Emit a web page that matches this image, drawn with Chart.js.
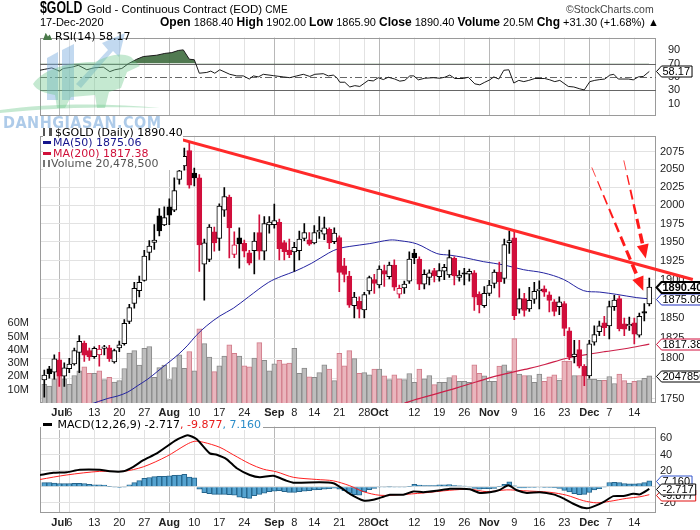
<!DOCTYPE html>
<html>
<head>
<meta charset="utf-8">
<title>$GOLD daily</title>
<script src="https://cdn.jsdelivr.net/npm/chart.js@4.4.1/dist/chart.umd.min.js"></script>
<style>
  html, body { margin: 0; padding: 0; background: #fff; }
  #wrap { position: relative; width: 700px; height: 530px; overflow: hidden; background: #fff; }
  #wrap canvas { position: absolute; left: 0; }
  .t { position: absolute; white-space: nowrap; color: #000; z-index: 5; }
  .hdr { font-family: 'Liberation Sans', Arial, sans-serif; }
  .lg { font-family: 'DejaVu Sans', Verdana, sans-serif; font-size: 11px; line-height: 10.4px; background: #fff; }
  .dash { display: inline-block; width: 8px; height: 3px; vertical-align: 2px; margin-right: 2px; }
  .wm { position: absolute; left: 0; top: 0; z-index: 4; pointer-events: none; }
</style>
</head>
<body>
<div id="wrap">
  <canvas id="rsi" width="700" height="99" style="top:27px"></canvas>
  <canvas id="price" width="700" height="295" style="top:125px"></canvas>
  <canvas id="macd" width="700" height="114" style="top:416px"></canvas>

  <svg class="wm" width="170" height="135">
    <g fill="rgba(120,170,222,0.45)">
      <polygon points="47,100 47,58 58,52 58,100"/>
      <polygon points="62,100 62,50 74,44 74,100"/>
      <polygon points="76,84 108,50 102,43 125,33 119,57 113,51 81,88"/>
    </g>
    <g fill="rgba(110,200,140,0.4)">
      <path d="M33,84 C44,68 70,62 95,62 C106,57 118,51 131,57 L140,66 L127,72 L121,88 L109,92 L105,108 L97,108 L95,95 L71,97 L65,108 L57,108 L55,95 C45,93 37,91 33,84 Z"/>
      <path d="M0,110 C50,103 110,103 160,108 C110,106 50,108 0,113 Z"/>
    </g>
  </svg>
  <div class="t" style="left:3px;top:113px;font:bold 16px 'DejaVu Sans Condensed','Liberation Sans Narrow',sans-serif;color:rgba(120,168,218,0.6);letter-spacing:0.5px;">DANHGIASAN.COM</div>

  <div class="t hdr" style="left:40px;top:0px;font-weight:bold;font-size:16px;line-height:16px;transform:scaleX(0.77);transform-origin:0 0;">$GOLD</div>
  <div class="t hdr" style="left:87px;top:3px;font-size:11.5px;line-height:12px;">Gold - Continuous Contract (EOD) <span style="font-size:10px">CME</span></div>
  <div class="t hdr" style="left:566px;top:3px;font-size:10.5px;line-height:12px;color:#444;">©StockCharts.com</div>
  <div class="t hdr" style="left:40px;top:16px;font-size:11px;line-height:12px;">17-Dec-2020</div>
  <div class="t hdr" style="left:160px;top:16px;font-size:11px;line-height:12px;"><b style="font-size:12px">Open</b> 1868.40 <b style="font-size:12px">High</b> 1902.00 <b style="font-size:12px">Low</b> 1865.90 <b style="font-size:12px">Close</b> 1890.40 <b style="font-size:12px">Volume</b> 20.5M <b style="font-size:12px">Chg</b> +31.30 (+1.68%) ▲</div>

  <div class="t lg" style="left:43px;top:31px;line-height:11px;background:transparent;"><span style="display:inline-block;width:9px;height:8px;background:#4a7a4a;clip-path:polygon(0 100%,30% 10%,55% 55%,75% 30%,100% 100%);margin-right:3px;"></span>RSI(14) 58.17</div>

  <div class="t lg" style="left:43px;top:128px;">
    <div><span style="display:inline-block;width:9px;height:8px;border-left:2px solid #555;border-right:3px solid #555;box-sizing:border-box;margin-right:3px;vertical-align:0px"></span>$GOLD (Daily) 1890.40</div>
    <div style="color:#14148c"><span class="dash" style="background:#14148c"></span>MA(50) 1875.06</div>
    <div style="color:#d0103a"><span class="dash" style="background:#d0103a"></span>MA(200) 1817.38</div>
    <div style="color:#555"><span style="display:inline-block;width:7px;height:7px;border-left:2px solid #777;border-right:2px solid #777;box-sizing:border-box;margin-right:1px;vertical-align:0px"></span>Volume 20,478,500</div>
  </div>

  <div class="t lg" style="left:41px;top:419px;line-height:11px;padding:0 2px;"><span class="dash" style="background:#000;width:9px"></span> MACD(12,26,9) -2.717<span style="color:#e81c1c">, -9.877</span><span style="color:#2a8cc8">, 7.160</span></div>
</div>

<script>
// ---- data (trading days Jun 26 2020 .. Dec 17 2020, index 0..121) ----
const xTickIdx    = [3, 5, 10, 15, 20, 25, 30, 35, 40, 46, 50, 54, 59, 64, 67, 74, 79, 84, 89, 94, 99, 104, 109, 113, 118];
const xTickLabels = ['Jul', '6', '13', '20', '27', 'Aug', '10', '17', '24', 'Sep', '8', '14', '21', '28', 'Oct', '12', '19', '26', 'Nov', '9', '16', '23', 'Dec', '7', '14'];
const monthIdx    = [3, 25, 46, 67, 89, 109];

const priceTicks = [1750, 1775, 1800, 1825, 1850, 1875, 1900, 1925, 1950, 1975, 2000, 2025, 2050, 2075];
const volTicks   = [10, 20, 30, 40, 50, 60];
const rsiTicks   = [10, 30, 50, 70, 90];
const macdTicks  = [-20, 0, 20, 40, 60];

const open = [
  1773, 1786.5, 1782.6, 1797.7, 1777.5, 1786.8, 1792.6, 1806.8, 1818.7, 1809.3,
  1801.7, 1803.7, 1812, 1812.8, 1795, 1812.7, 1818, 1846, 1869, 1885.5,
  1899, 1935.8, 1949.5, 1985.4, 1973, 1997.8, 1993.3, 2035.8, 2054.9, 2077,
  2044.9, 2038.1, 1920.4, 1926.8, 1963.5, 1954.7, 1993.3, 2011.2, 1933.2, 1955.6,
  1948.2, 1935.3, 1938.4, 1962.6, 1937.5, 1973, 1973.5, 1976.6, 1949, 1939,
  1936.6, 1938.4, 1954.7, 1953, 1948.7, 1963.5, 1960.5, 1967, 1950.4, 1956,
  1918.2, 1904.5, 1866.3, 1871.8, 1860.8, 1885.3, 1900, 1893, 1912, 1904,
  1919, 1881, 1889, 1898, 1935, 1927, 1894, 1903, 1912, 1904,
  1911, 1906, 1928, 1903, 1909, 1907, 1909, 1881, 1866, 1882,
  1895, 1910, 1901.7, 1949, 1955.6, 1861.6, 1875.2, 1862, 1874.5, 1885.7,
  1887.8, 1880.3, 1871.2, 1865, 1869, 1834.1, 1801.7, 1810.5, 1789.8, 1777.9,
  1819.8, 1832.9, 1844.3, 1840.3, 1865, 1875.2, 1843, 1840.3, 1844.3, 1828.7,
  1858.7, 1868.4
];
const high = [
  1785, 1789.7, 1803.8, 1807, 1794, 1799.6, 1812.5, 1828, 1821, 1812.5,
  1814, 1815.8, 1815.8, 1815.8, 1811, 1821, 1848.3, 1868, 1896.3, 1904.5,
  1938.8, 1951.7, 1973.4, 1995.5, 1997.8, 2009, 2038, 2058.6, 2080.3, 2088.6,
  2051.8, 2042.6, 1953.9, 1973.4, 1970, 2001.8, 2024.6, 2013.9, 1963.5, 1969.1,
  1952.6, 1938.8, 1962.6, 1986.8, 1984.5, 1984.5, 2001.5, 1981, 1951.7, 1953.9,
  1949.5, 1964.8, 1974.7, 1962.6, 1972.2, 1984.5, 1983.6, 1969.1, 1969.1, 1958.2,
  1928.1, 1910.9, 1883.5, 1877.7, 1883.5, 1904.6, 1907, 1918, 1919, 1923,
  1926, 1893, 1898, 1936.6, 1940, 1930, 1913, 1913, 1915, 1921,
  1920, 1939, 1930, 1912, 1915, 1914, 1912, 1884, 1891, 1899,
  1913, 1923, 1954, 1964.8, 1964.8, 1887.8, 1882, 1890, 1896.3, 1898.4,
  1892, 1884, 1874, 1877.7, 1871.5, 1838.1, 1822, 1822, 1792, 1822,
  1840.3, 1846.5, 1852.5, 1872, 1879.4, 1879, 1850.4, 1851.6, 1850.4, 1856.6,
  1869, 1902
];
const low = [
  1752, 1775, 1774, 1765, 1765, 1781.8, 1791, 1782, 1795.7, 1797,
  1799.6, 1789.8, 1803.7, 1795.7, 1793.5, 1808, 1816, 1843, 1862.8, 1877.3,
  1898, 1925.9, 1940.1, 1958.2, 1972, 1973.4, 1991, 2029.1, 2049, 2023.7,
  2026.9, 1910.9, 1873.1, 1923.8, 1937.5, 1938.8, 1984.5, 1928.8, 1929, 1915.2,
  1930.1, 1919.5, 1907.6, 1926.8, 1925.9, 1961.8, 1968.7, 1925.9, 1925.9, 1929,
  1910.9, 1925.9, 1951.7, 1945.2, 1947.5, 1954.7, 1953, 1941, 1947.8, 1884.4,
  1897, 1864, 1850.4, 1850.4, 1850.4, 1881, 1882, 1889, 1891, 1901,
  1886, 1876, 1882, 1895, 1921, 1887, 1888, 1893, 1897, 1898,
  1900, 1903, 1893, 1898, 1893, 1898, 1860, 1857, 1864, 1879,
  1889, 1877, 1895, 1934.5, 1848.3, 1856.6, 1852.6, 1858.9, 1869, 1862,
  1878, 1858, 1853, 1854.5, 1828, 1797.8, 1794, 1787.8, 1766, 1775,
  1816, 1828, 1828, 1823.7, 1860, 1834, 1828, 1834.5, 1817.7, 1825.9,
  1846.6, 1865.9
];
const close = [
  1779, 1780.6, 1799, 1777.5, 1787.7, 1792.6, 1809.3, 1820.7, 1803.4, 1801.2,
  1812, 1811, 1814, 1799.1, 1809.3, 1816.5, 1843.5, 1863.7, 1888.7, 1896.3,
  1931, 1944.3, 1952.6, 1964.8, 1983, 1986.5, 2020.2, 2048.1, 2068.7, 2027.7,
  2038.1, 1946.1, 1948.7, 1970, 1948.7, 1998.7, 2012.1, 1969.1, 1946.1, 1947.5,
  1937.5, 1921.7, 1951.3, 1937.5, 1974.7, 1977, 1978.8, 1941, 1937, 1933,
  1942.7, 1953.9, 1962.6, 1946.9, 1962.6, 1965.7, 1969.1, 1948.7, 1961.8, 1909.6,
  1906.7, 1866.9, 1877.3, 1861.6, 1880.6, 1902.6, 1895, 1914, 1907, 1919,
  1890, 1888.7, 1894, 1927, 1929, 1894, 1907, 1909, 1905, 1912,
  1916, 1929, 1905, 1906, 1907, 1911, 1877, 1867, 1882, 1893,
  1910, 1897, 1946.5, 1952, 1853.2, 1875.2, 1860, 1873, 1884.7, 1887.5,
  1883.7, 1872.8, 1858.7, 1871.2, 1837, 1801.7, 1805, 1789.8, 1777.9, 1817.7,
  1829.2, 1840.3, 1838.1, 1865, 1873.3, 1836.9, 1836, 1842.3, 1829.9, 1852.5,
  1856.6, 1890.4
];
// volume in millions
const volume = [
  14, 12.7, 18.3, 30, 18.3, 14, 20.7, 24.2, 27.3, 22.4,
  22.4, 24.2, 17.6, 19.3, 15.8, 16.9, 26, 37.7, 39.5, 28.5,
  41.2, 42.6, 19.3, 26.6, 28.5, 17.6, 26.6, 36.3, 26.1, 38.8,
  24.2, 55.8, 44.8, 34.6, 23.6, 28, 35.3, 43.9, 37.5, 35.3,
  28, 27.3, 33.9, 45.5, 32.2, 24.2, 29.5, 32.2, 29.5, 30,
  41.2, 22.4, 26.4, 19.8, 19.3, 22.9, 28.8, 25.6, 16.9, 37.5,
  28, 39.5, 33.4, 22.4, 22.9, 21.2, 25.6, 25.6, 20.5, 17.6,
  21.2, 18.3, 17.6, 22.2, 15.6, 25.6, 18.3, 20.7, 13.9, 15.6,
  15.6, 19.1, 20.7, 16.4, 16.4, 15.6, 28.8, 22.4, 20.5, 16.4,
  16.4, 27.8, 28.8, 24.2, 48.5, 21.7, 20.7, 20.7, 15.6, 21.7,
  16.4, 19.8, 21.2, 17.3, 31.5, 31.5, 20.7, 20.7, 26.6, 18.1,
  18.1, 17.1, 17.1, 20, 14.7, 21.7, 16.9, 15.1, 16.4, 16.9,
  18.5, 20.4785
];

const ma50Idx = [9, 12.7, 14.7, 16.7, 18.7, 20.7, 22.7, 24.7, 26.7, 28.7, 30.4, 32.5, 35.1, 37.8, 40.8, 44.8, 47.5, 50.1, 53.5, 56.8, 58.8, 61.1, 65.1, 69.1, 71.1, 74.5, 78.5, 81.1, 83.8, 87.8, 91.8, 95.8, 99.8, 103.8, 107.8, 111.1, 114.5, 118.5, 121];
const ma50Val = [1743, 1750.5, 1753.5, 1758.2, 1766.1, 1774, 1783.8, 1793.7, 1803.8, 1816, 1828.3, 1840.6, 1852.9, 1862.8, 1877.3, 1896.2, 1904.5, 1910.9, 1921.7, 1934.9, 1941, 1944, 1947.8, 1952.6, 1951.7, 1947.4, 1934.5, 1932.3, 1929.4, 1923.7, 1919.5, 1913.1, 1908.9, 1900.4, 1885.7, 1883.7, 1880.7, 1876.5, 1875.06];

const ma200Idx = [72, 74.5, 78.5, 82.5, 86.5, 90.5, 96.1, 100.1, 104.1, 108.1, 112.1, 116.1, 121];
const ma200Val = [1744.5, 1749.6, 1756.3, 1763.3, 1770.8, 1777.9, 1785.9, 1791.9, 1799.1, 1803.9, 1807.9, 1811.5, 1817.38];

const rsiIdx = [-0.9, 0.1, 1.5, 3, 3.8, 5.5, 6.8, 8.5, 10.1, 11.8, 13.1, 14.1, 15.5, 16.8, 18.5, 19.8, 22.5, 24.1, 25.5, 26.8, 27.8, 29, 30, 31, 32.5, 33.3, 34.1, 35.1, 37.1, 38.5, 39.8, 41, 41.8, 42.8, 43.8, 45.8, 47.8, 49.1, 50.5, 51.8, 53.1, 54.1, 55.8, 56.8, 57.8, 58.5, 59.1, 60.1, 61.1, 62.1, 63.1, 64.8, 65.8, 66.8, 67.8, 68.8, 70.1, 71.1, 72.1, 73.1, 73.9, 74.8, 76.1, 77.8, 79.1, 80.1, 81.1, 82.1, 83.8, 84.8, 86.1, 87.1, 88.1, 89.1, 89.9, 90.9, 91.9, 92.9, 93.9, 94.9, 95.9, 96.9, 98.1, 100.1, 101.1, 102.1, 103.1, 104.8, 105.9, 107.1, 108, 109.1, 110.1, 111.1, 112.1, 113.1, 113.9, 114.8, 116.8, 117.8, 118.8, 119.8, 121];
const rsiVal = [59.9, 61.4, 63.5, 58.7, 62.6, 64.6, 67.4, 60.7, 63.8, 64.6, 57.9, 60.7, 62.6, 69.8, 76.5, 80.5, 82.5, 85.2, 86.4, 89.6, 90.5, 76.5, 75.7, 55.5, 56.7, 58.7, 55.5, 60.7, 53.9, 51.5, 51.5, 46.8, 51.5, 50, 53.9, 51.9, 50, 48.8, 51.5, 53.9, 50.7, 53.9, 54.8, 51.5, 52.7, 48.8, 42, 42, 34.9, 36.9, 35.7, 44.8, 44, 48.8, 46, 49.5, 46.8, 43.6, 44.8, 51.5, 51.5, 45.6, 48, 48.8, 48, 49.5, 52.7, 47.6, 47.6, 49.5, 39.6, 38.1, 42, 45.6, 50, 46.8, 59.9, 60.7, 40.8, 44.8, 42.9, 44.8, 47.6, 47.6, 45.6, 42.9, 44.8, 35.7, 34.9, 32.1, 30.5, 42.9, 44.8, 46, 46.8, 52.7, 53.9, 46.8, 46.8, 45.6, 50, 50.7, 58.17];

const macdIdx = [-0.86, 1.8, 4.5, 7.1, 11.1, 13.1, 15.8, 17.8, 19.8, 22.5, 25.1, 26.8, 28.7, 30.5, 33.1, 34.5, 36.5, 38.5, 41.1, 43.1, 45.8, 48.5, 49.8, 55.1, 57.8, 59.1, 61.1, 63.8, 65.8, 67.8, 69.1, 71.8, 73.8, 75.8, 78.5, 81.1, 83.1, 85.1, 87.1, 89.1, 91.1, 92.8, 94.5, 96.5, 99.1, 101.8, 103.8, 105.8, 107.8, 109.1, 111.8, 113.8, 115.8, 117.8, 119.1, 121];
const macdVal = [14.6, 17.3, 18, 21, 21, 19.1, 19.1, 24.7, 32.9, 41.4, 52.6, 59.3, 64, 58.9, 41.4, 39.6, 34, 22.9, 14.6, 11.7, 13.5, 7.3, 5, 5.4, 4.2, -0.2, -8.8, -17, -16.2, -12.5, -9.9, -9.9, -5.8, -6.9, -5, -2.5, -2.5, -3.2, -7.7, -6.9, -3.9, 1.7, -4.4, -7.7, -6.9, -9.5, -14.4, -21.1, -26.2, -26.2, -19.2, -11.7, -11.4, -8.8, -9.5, -2.717];

const signalIdx = [-0.86, 4.5, 11.1, 15.8, 19.8, 24.5, 28.5, 30.1, 31.8, 35.1, 37.8, 41.1, 43.8, 46.5, 49.8, 54.5, 57.8, 61.1, 63.8, 67.1, 71.1, 75.8, 81.1, 85.1, 88.5, 92.5, 95.8, 101.1, 104.5, 107.8, 110.5, 113.1, 116.5, 119.1, 121];
const signalVal = [9, 14.6, 19.1, 19.1, 24.7, 37.7, 52.6, 56.4, 55.2, 48.9, 39.6, 28.5, 21.8, 18.4, 11.7, 9, 7.3, 1.2, -6.1, -10.6, -9.9, -7.7, -4.4, -3.2, -6.1, -3.9, -5, -6.9, -10.6, -17.3, -20, -18.1, -14.4, -12.5, -9.877];

const histogram = [
  5, 5, 4.5, 4, 4, 4, 4.2, 4.2, 4, 3,
  2.5, 2.4, 2, 0.5, -0.5, -1, -0.5, 2.4, 5, 7.5,
  10.5, 11.5, 12.5, 13, 13, 13.5, 14, 14.5, 15.5, 12,
  11, -3, -7.5, -8.5, -9.5, -9.5, -9.5, -10, -10.5, -13,
  -14, -14.5, -11, -9.5, -8, -6, -5.5, -5, -6, -7,
  -7, -6, -5.5, -5, -4, -3.5, -3, -2.5, -1.8, -3,
  -5, -8, -10, -10.6, -6, -3.5, -2, -0.5, -0.3, -0.2,
  -0.5, -0.5, -0.3, 0.5, 3, 2, 1.3, 1.3, 1.5, 2.2,
  2.4, 2.6, 1.5, 1.2, 0.8, -0.5, -2, -3, -2.5, -2.5,
  -2, 0.5, 3, 6, 1, -1.5, -1.5, -1, -0.8, -0.6,
  -0.8, -1, -1.3, -2, -4.5, -6.5, -8.5, -9.8, -9.5, -7,
  -4, -2.5, -0.5, 5.2, 5.4, 5, 4, 3.5, 3.5, 4,
  5, 7.16
];

// drawn annotations, in (day index, price)
const trendIdx = [24.5, 129.7];
const trendVal = [2098.4, 1900.2];
const arrowFrom = [[109.5, 2052.8], [115.9, 2062.8]];
const arrowTo   = [[119.8, 1885.5], [120.3, 1927.9]];

// ---- helpers ----
const RED = '#d10f3c';
const FONT = "'Liberation Sans', Arial, sans-serif";
const last = a => a[a.length - 1];
const pts = (xs, ys) => xs.map((x, k) => ({ x: x, y: ys[k] }));
const isDown = i => i > 0 && close[i] < close[i - 1];
const candleColor = open.map((o, i) => isDown(i) ? RED : '#000000');

function xScale(showLabels) {
  return {
    type: 'linear', min: -0.86, max: 122.34, bounds: 'data', offset: false,
    afterBuildTicks: s => { s.ticks = xTickIdx.map(v => ({ value: v })); },
    afterFit: s => { s.height = showLabels ? 17 : 0; },
    grid: { offset: false, drawTicks: false, color: c => (c.tick && monthIdx.includes(c.tick.value)) ? '#b8b8b8' : '#e2e2e2' },
    border: { display: false },
    ticks: {
      display: showLabels, autoSkip: false, maxRotation: 0, padding: 3, color: '#222',
      font: c => ({ family: FONT, size: 11, weight: (c.tick && monthIdx.includes(c.tick.value)) ? 'bold' : 'normal' }),
      callback: (v, i) => xTickLabels[i]
    }
  };
}

function rightAxis(extra) {
  return Object.assign({
    position: 'right', bounds: 'data',
    afterFit: s => { s.width = 44; },
    grid: { color: '#e2e2e2', drawTicks: false },
    border: { display: false },
    ticks: { autoSkip: false, padding: 4, color: '#222', font: { family: FONT, size: 11 }, callback: v => String(v) }
  }, extra);
}

const framePlugin = {
  id: 'frame',
  beforeDatasetsDraw(chart) {
    const { ctx, chartArea: a } = chart;
    ctx.save();
    ctx.strokeStyle = '#9a9a9a';
    ctx.lineWidth = 1;
    ctx.strokeRect(Math.round(a.left) + 0.5, Math.round(a.top) + 0.5, Math.round(a.width) - 1, Math.round(a.height) - 1);
    ctx.restore();
  }
};

const tagPlugin = {
  id: 'tags',
  afterDraw(chart, args, opts) {
    const { ctx, chartArea: a } = chart;
    (opts.items || []).forEach(t => {
      const y = Math.round(chart.scales[t.axis].getPixelForValue(t.value)) + 0.5;
      ctx.save();
      ctx.font = (t.bold ? 'bold ' : '') + '11px ' + FONT;
      const w = ctx.measureText(t.text).width;
      const x0 = Math.round(a.right) + 0.5, h = 5.5;
      ctx.beginPath();
      ctx.moveTo(x0, y);
      ctx.lineTo(x0 + 5, y - h);
      ctx.lineTo(x0 + 8 + w, y - h);
      ctx.lineTo(x0 + 8 + w, y + h);
      ctx.lineTo(x0 + 5, y + h);
      ctx.closePath();
      ctx.fillStyle = '#fff';
      ctx.fill();
      ctx.lineWidth = t.lw || 1;
      ctx.strokeStyle = t.border;
      ctx.stroke();
      ctx.fillStyle = '#000';
      ctx.textBaseline = 'middle';
      ctx.fillText(t.text, x0 + 6, y + 0.5);
      ctx.restore();
    });
  }
};

const rsiLinesPlugin = {
  id: 'rsiLines',
  beforeDatasetsDraw(chart) {
    const { ctx, chartArea: a, scales: { y } } = chart;
    ctx.save();
    ctx.strokeStyle = '#666';
    ctx.lineWidth = 1;
    [70, 50, 30].forEach(v => {
      const py = Math.round(y.getPixelForValue(v)) + 0.5;
      ctx.setLineDash(v === 50 ? [7, 3, 2, 3] : []);
      ctx.beginPath();
      ctx.moveTo(a.left, py);
      ctx.lineTo(a.right, py);
      ctx.stroke();
    });
    ctx.restore();
  }
};

const arrowPlugin = {
  id: 'arrows',
  afterDatasetsDraw(chart) {
    const { ctx, scales: { x, y } } = chart;
    ctx.save();
    ctx.strokeStyle = '#ff1a1a';
    ctx.fillStyle = '#ff1a1a';
    arrowFrom.forEach((f, k) => {
      const t = arrowTo[k];
      const x1 = x.getPixelForValue(f[0]), y1 = y.getPixelForValue(f[1]);
      const x2 = x.getPixelForValue(t[0]), y2 = y.getPixelForValue(t[1]);
      const len = Math.hypot(x2 - x1, y2 - y1), ux = (x2 - x1) / len, uy = (y2 - y1) / len;
      const head = 14, half = 6, shaft = len - head;
      for (let s = 0; s < shaft; s += 15) {
        const e = Math.min(s + 10, shaft);
        ctx.lineWidth = 0.8 + 3.2 * (s / shaft);
        ctx.beginPath();
        ctx.moveTo(x1 + ux * s, y1 + uy * s);
        ctx.lineTo(x1 + ux * e, y1 + uy * e);
        ctx.stroke();
      }
      const bx = x2 - ux * head, by = y2 - uy * head;
      ctx.beginPath();
      ctx.moveTo(x2, y2);
      ctx.lineTo(bx + uy * half, by - ux * half);
      ctx.lineTo(bx - uy * half, by + ux * half);
      ctx.closePath();
      ctx.fill();
    });
    ctx.restore();
  }
};

const common = {
  animation: false, responsive: false, events: [],
  plugins: { legend: { display: false }, tooltip: { enabled: false } }
};

// ---- RSI panel ----
new Chart(document.getElementById('rsi'), {
  type: 'line',
  data: {
    datasets: [{
      data: pts(rsiIdx, rsiVal),
      borderColor: '#1a1a1a', borderWidth: 1, pointRadius: 0, tension: 0,
      fill: { target: { value: 70 }, above: 'rgba(62,108,62,0.9)', below: 'rgba(0,0,0,0)' }
    }]
  },
  options: Object.assign({}, common, {
    layout: { padding: { left: 40, top: 1 } },
    plugins: Object.assign({}, common.plugins, {
      tags: { items: [{ axis: 'y', value: last(rsiVal), text: last(rsiVal).toFixed(2), border: '#000' }] }
    }),
    scales: {
      x: xScale(false),
      y: rightAxis({
        min: -7.7, max: 108.9,
        afterBuildTicks: s => { s.ticks = rsiTicks.map(v => ({ value: v })); },
        grid: { display: false }
      })
    }
  }),
  plugins: [framePlugin, rsiLinesPlugin, tagPlugin]
});

// ---- price panel ----
new Chart(document.getElementById('price'), {
  type: 'line',
  data: {
    datasets: [
      {
        type: 'line', label: 'Trend', data: pts(trendIdx, trendVal),
        borderColor: '#ff2a2a', borderWidth: 3, pointRadius: 0,
        clip: { left: 0, top: 0, right: 45, bottom: 0 }, order: 0
      },
      {
        type: 'bar', label: 'Body',
        data: open.map((o, i) => ({ x: i, y: [Math.min(o, close[i]), Math.max(o, close[i])] })),
        backgroundColor: open.map((o, i) => close[i] < o ? candleColor[i] : '#ffffff'),
        borderColor: candleColor, borderWidth: 1, borderSkipped: false,
        barThickness: 5, minBarLength: 1, grouped: false, order: 1
      },
      {
        type: 'bar', label: 'Wick',
        data: open.map((o, i) => ({ x: i, y: [low[i], high[i]] })),
        backgroundColor: candleColor, borderWidth: 0,
        barThickness: 1, grouped: false, order: 2
      },
      {
        type: 'line', label: 'MA(50)', data: pts(ma50Idx, ma50Val),
        borderColor: '#2424a0', borderWidth: 1, pointRadius: 0, tension: 0.35, order: 3
      },
      {
        type: 'line', label: 'MA(200)', data: pts(ma200Idx, ma200Val),
        borderColor: '#cc1f48', borderWidth: 1.2, pointRadius: 0, tension: 0.35, order: 4
      },
      {
        type: 'bar', label: 'Volume', yAxisID: 'yv',
        data: volume.map((v, i) => ({ x: i, y: v })),
        backgroundColor: volume.map((v, i) => isDown(i) ? '#eab5bd' : '#bdbdbd'),
        borderColor: volume.map((v, i) => isDown(i) ? '#d27d8b' : '#8a8a8a'),
        borderWidth: 1, barThickness: 5, grouped: false, order: 5
      }
    ]
  },
  options: Object.assign({}, common, {
    layout: { padding: { top: 1 } },
    plugins: Object.assign({}, common.plugins, {
      tags: {
        items: [
          { axis: 'yv', value: last(volume), text: String(Math.round(last(volume) * 1e6)), border: '#000' },
          { axis: 'y', value: last(ma200Val), text: last(ma200Val).toFixed(2), border: '#d10f3c' },
          { axis: 'y', value: last(ma50Val), text: last(ma50Val).toFixed(2), border: '#2030c0' },
          { axis: 'y', value: last(close), text: last(close).toFixed(2), border: '#000', bold: true, lw: 2 }
        ]
      }
    }),
    scales: {
      x: xScale(true),
      y: rightAxis({
        type: 'logarithmic', min: 1745, max: 2098.4,
        afterBuildTicks: s => { s.ticks = priceTicks.map(v => ({ value: v })); }
      }),
      yv: {
        type: 'linear', position: 'left', min: 0, max: 201.5, bounds: 'data',
        afterBuildTicks: s => { s.ticks = volTicks.map(v => ({ value: v })); },
        afterFit: s => { s.width = 40; },
        grid: { display: false }, border: { display: false },
        ticks: { autoSkip: false, padding: 3, color: '#222', font: { family: FONT, size: 11 }, callback: v => v + 'M' }
      }
    }
  }),
  plugins: [framePlugin, arrowPlugin, tagPlugin]
});

// ---- MACD panel ----
new Chart(document.getElementById('macd'), {
  type: 'line',
  data: {
    datasets: [
      {
        type: 'line', label: 'MACD', data: pts(macdIdx, macdVal),
        borderColor: '#000', borderWidth: 2, pointRadius: 0, tension: 0.2, order: 0
      },
      {
        type: 'line', label: 'Signal', data: pts(signalIdx, signalVal),
        borderColor: '#ff2020', borderWidth: 1, pointRadius: 0, tension: 0.3, order: 1
      },
      {
        type: 'bar', label: 'Histogram',
        data: histogram.map((v, i) => ({ x: i, y: v })),
        backgroundColor: '#55a3d0', borderColor: '#26658c', borderWidth: 1,
        barThickness: 5, grouped: false, order: 2
      }
    ]
  },
  options: Object.assign({}, common, {
    layout: { padding: { left: 40, top: 1 } },
    plugins: Object.assign({}, common.plugins, {
      tags: {
        items: [
          { axis: 'y', value: last(histogram), text: last(histogram).toFixed(3), border: '#3355cc' },
          { axis: 'y', value: last(signalVal), text: last(signalVal).toFixed(3), border: '#e01010' },
          { axis: 'y', value: last(macdVal), text: last(macdVal).toFixed(3), border: '#000' }
        ]
      }
    }),
    scales: {
      x: xScale(true),
      y: rightAxis({
        min: -32.6, max: 74.6,
        afterBuildTicks: s => { s.ticks = macdTicks.map(v => ({ value: v })); }
      })
    }
  }),
  plugins: [framePlugin, tagPlugin]
});
</script>
</body>
</html>
